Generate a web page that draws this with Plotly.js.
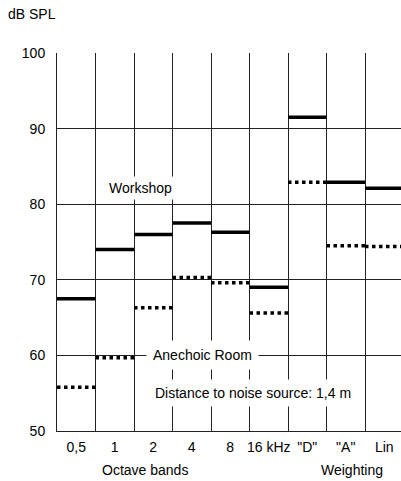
<!DOCTYPE html>
<html><head><meta charset="utf-8">
<script src="https://cdn.plot.ly/plotly-3.0.1.min.js"></script>
<style>html,body{margin:0;padding:0;background:#fff}#plot{width:401px;height:481px}</style>
</head><body><div id="plot"></div>
<script>
const categories = ['0,5', '1', '2', '4', '8', '16 kHz', '"D"', '"A"', 'Lin'];
const workshop = [67.5, 74.0, 76.0, 77.5, 76.3, 69.0, 91.5, 82.9, 82.1];
const anechoic = [55.8, 59.7, 66.3, 70.3, 69.6, 65.6, 82.9, 74.5, 74.4];
const yTicks = [50, 60, 70, 80, 90, 100];

function steps(vals) {
  const xs = [], ys = [];
  vals.forEach((v, i) => { xs.push(i - 0.5, i + 0.5, null); ys.push(v, v, null); });
  return {xs, ys};
}
const w = steps(workshop), a = steps(anechoic);
const idx = categories.map((c, i) => i);
const FONT = 'Liberation Sans, Arial, sans-serif';

const traces = [
  {x: w.xs, y: w.ys, mode: 'lines', line: {color: '#000', width: 3.5}, connectgaps: false, hoverinfo: 'skip'},
  {x: a.xs, y: a.ys, mode: 'lines', line: {color: '#000', width: 3.5, dash: 'dot'}, connectgaps: false, hoverinfo: 'skip'}
];

const layout = {
  width: 401, height: 481,
  margin: {l: 57, r: 0, t: 53, b: 50},
  paper_bgcolor: '#fff', plot_bgcolor: '#fff',
  showlegend: false,
  font: {family: FONT, size: 14, color: '#000'},
  xaxis: {
    range: [-0.5, 8.435], tickmode: 'array', tickvals: idx, ticktext: categories,
    showgrid: false, zeroline: false, showline: true, linecolor: '#222', linewidth: 1,
    ticks: '', ticklabelstandoff: 3, tickfont: {family: FONT, size: 14},
    minor: {tickmode: 'linear', tick0: -0.5, dtick: 1, showgrid: true, gridcolor: '#222', gridwidth: 1, ticks: ''}
  },
  yaxis: {
    range: [50, 100], tickmode: 'array', tickvals: yTicks,
    showgrid: true, gridcolor: '#222', gridwidth: 1, zeroline: false,
    showline: true, linecolor: '#222', linewidth: 1, ticks: '', ticklabelstandoff: 8,
    tickfont: {family: FONT, size: 14}
  },
  annotations: [
    {text: 'dB SPL', xref: 'paper', yref: 'paper', x: -0.148, y: 1.103, xanchor: 'left', yanchor: 'middle', showarrow: false, font: {size: 14}},
    {text: 'Workshop', xref: 'x', yref: 'y', x: 1.66, y: 82.1, xanchor: 'center', yanchor: 'middle', showarrow: false, bgcolor: '#fff', borderpad: 3, font: {size: 14}},
    {text: 'Anechoic Room', xref: 'x', yref: 'y', x: 3.29, y: 60, xanchor: 'center', yanchor: 'middle', showarrow: false, bgcolor: '#fff', borderpad: 6, font: {size: 14}},
    {text: 'Distance to noise source: 1,4 m', xref: 'x', yref: 'y', x: 4.58, y: 55.06, xanchor: 'center', yanchor: 'middle', showarrow: false, bgcolor: '#fff', borderpad: 5, font: {size: 14}},
    {text: 'Octave bands', xref: 'paper', yref: 'paper', x: (144.5 - 57) / 344, y: -0.103, xanchor: 'center', yanchor: 'middle', showarrow: false, font: {size: 14}},
    {text: 'Weighting', xref: 'paper', yref: 'paper', x: (352 - 57) / 344, y: -0.103, xanchor: 'center', yanchor: 'middle', showarrow: false, font: {size: 14}}
  ]
};
Plotly.newPlot('plot', traces, layout, {staticPlot: true, displayModeBar: false});
</script></body></html>
